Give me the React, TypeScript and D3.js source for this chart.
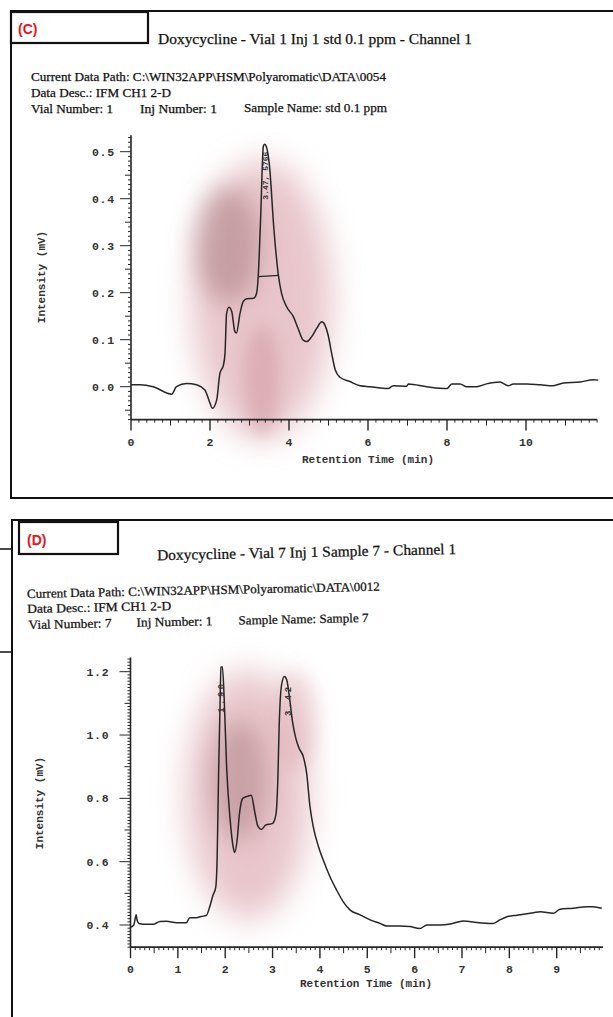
import React from "react";
import * as d3 from "d3";

// (C) standard 0.1 ppm trace
const topTime = [0, 0.22, 0.56, 1.03, 1.15, 1.41, 1.66, 1.87, 2.0, 2.06, 2.17, 2.25, 2.34, 2.38, 2.42, 2.48, 2.55, 2.63, 2.67, 2.76, 2.84, 2.93, 3.1, 3.18, 3.22, 3.28, 3.35, 3.38, 3.42, 3.5, 3.62, 3.73, 3.81, 3.94, 4.11, 4.23, 4.36, 4.45, 4.57, 4.7, 4.83, 4.91, 4.99, 5.08, 5.17, 5.29, 5.54, 5.8, 6.05, 6.51, 6.64, 6.98, 7.02, 7.49, 8.0, 8.12, 8.33, 8.5, 8.75, 9.0, 9.34, 9.55, 9.68, 10.02, 10.36, 10.69, 10.95, 11.37, 11.71, 11.83];
const topSignal = [0.004, 0.004, 0.0, -0.016, 0.0, 0.007, 0.004, -0.007, -0.035, -0.046, -0.028, 0.028, 0.046, 0.071, 0.156, 0.169, 0.16, 0.117, 0.114, 0.156, 0.181, 0.187, 0.188, 0.199, 0.234, 0.355, 0.511, 0.516, 0.512, 0.475, 0.333, 0.238, 0.199, 0.17, 0.149, 0.124, 0.099, 0.096, 0.106, 0.124, 0.138, 0.131, 0.11, 0.071, 0.036, 0.02, 0.011, 0.002, 0.0, -0.004, 0.002, 0.001, 0.006, 0.0, -0.004, 0.006, 0.006, 0.0, 0.0, 0.006, 0.01, 0.002, 0.006, 0.006, 0.004, 0.002, 0.008, 0.01, 0.015, 0.014];
const topXTicks = [0, 2, 4, 6, 8, 10];
const topYTicks = [0.0, 0.1, 0.2, 0.3, 0.4, 0.5];
const topPeaks = [{ t: 3.4, v: 0.398, label: "3.47, 5766" }];

// (D) sample 7 trace
const bottomTime = [0, 0.07, 0.12, 0.14, 0.18, 0.34, 0.48, 0.62, 0.76, 0.97, 1.18, 1.25, 1.39, 1.49, 1.6, 1.67, 1.74, 1.8, 1.83, 1.86, 1.89, 1.91, 1.94, 1.98, 2.03, 2.1, 2.17, 2.2, 2.25, 2.3, 2.37, 2.48, 2.55, 2.62, 2.69, 2.76, 2.86, 3.0, 3.07, 3.11, 3.14, 3.19, 3.25, 3.3, 3.35, 3.42, 3.49, 3.56, 3.65, 3.72, 3.79, 3.86, 3.97, 4.07, 4.21, 4.35, 4.49, 4.64, 4.85, 5.06, 5.27, 5.41, 5.69, 5.9, 6.11, 6.26, 6.54, 6.75, 7.03, 7.31, 7.66, 7.8, 7.95, 8.16, 8.51, 8.65, 8.93, 9.07, 9.35, 9.63, 9.77, 9.95];
const bottomSignal = [0.393, 0.4, 0.432, 0.415, 0.405, 0.402, 0.402, 0.411, 0.412, 0.407, 0.407, 0.423, 0.423, 0.427, 0.43, 0.456, 0.493, 0.519, 0.614, 0.877, 1.087, 1.214, 1.216, 1.109, 0.898, 0.74, 0.645, 0.629, 0.666, 0.75, 0.8, 0.807, 0.81, 0.76, 0.712, 0.702, 0.716, 0.721, 0.748, 0.853, 1.032, 1.158, 1.185, 1.174, 1.127, 1.043, 0.99, 0.958, 0.931, 0.879, 0.774, 0.71, 0.647, 0.605, 0.553, 0.511, 0.474, 0.447, 0.432, 0.416, 0.405, 0.397, 0.397, 0.395, 0.389, 0.4, 0.4, 0.403, 0.413, 0.408, 0.405, 0.416, 0.426, 0.431, 0.439, 0.442, 0.437, 0.45, 0.453, 0.458, 0.458, 0.453];
const bottomXTicks = [0, 1, 2, 3, 4, 5, 6, 7, 8, 9];
const bottomYTicks = [0.4, 0.6, 0.8, 1.0, 1.2];
const bottomPeaks = [
  { t: 1.92, v: 1.07, label: "1.90" },
  { t: 3.33, v: 1.06, label: "3.42" },
];

const ink = "#262626";
const mono = "'Liberation Mono', 'DejaVu Sans Mono', monospace";
const serif = "'Liberation Serif', 'DejaVu Serif', serif";

const near = (a: number, step: number) => Math.abs(a / step - Math.round(a / step)) < 1e-6;

function Plot(props: any) {
  const { time, signal, x, y, xEnd, yMin, yMax, xTicks, yTicks, xStep, xMid, yStep, yMid, yMajor, xLabelPos, yLabelPos, yLabelGap, peaks, peakFont, peakSpacing, bandFrom, bandTo } = props;
  const x0 = x(0);
  const axisY = y(yMin);
  const line = d3.line<number>()
    .x((d, i) => x(time[i]))
    .y(d => y(d))
    .curve(d3.curveMonotoneX);

  const xMinor = d3.range(0, xEnd + 1e-9, xStep).map(v => +v.toFixed(3));
  const yMinor = d3.range(Math.ceil(yMin / yStep) * yStep, yMax + 1e-9, yStep).map(v => +v.toFixed(3));
  const isLabelled = (v: number) => xTicks.some((t: number) => Math.abs(t - v) < 1e-6);

  return (
    <g>
      {/* axes */}
      <line x1={x0} x2={x0} y1={y(yMax)} y2={axisY} stroke={ink} strokeWidth={1.6} />
      <line x1={x0} x2={x(xEnd)} y1={axisY} y2={axisY} stroke={ink} strokeWidth={1.6} />
      {xMinor.map((v, i) => {
        const len = isLabelled(v) ? 11 : near(v, xMid) ? 6 : 3;
        return <line key={"xt" + i} x1={x(v)} x2={x(v)} y1={axisY} y2={axisY + len} stroke={ink} strokeWidth={isLabelled(v) ? 1.4 : 1} />;
      })}
      {yMinor.map((v, i) => {
        const len = near(v, yMajor) ? 11 : near(v, yMid) ? 6 : 3;
        return <line key={"yt" + i} x1={x0 - len} x2={x0} y1={y(v)} y2={y(v)} stroke={ink} strokeWidth={1} />;
      })}
      {xTicks.map((t: number) => (
        <text key={"xl" + t} x={x(t)} y={axisY + 26} textAnchor="middle" fontFamily={mono} fontWeight="bold" fontSize={11.5} fill="#333">{t}</text>
      ))}
      {yTicks.map((t: number) => (
        <text key={"yl" + t} x={x0 - yLabelGap} y={y(t) + 4} textAnchor="end" fontFamily={mono} fontWeight="bold" fontSize={11.5} letterSpacing={0.8} fill="#333">{t.toFixed(1)}</text>
      ))}
      <text x={xLabelPos[0]} y={xLabelPos[1]} textAnchor="middle" fontFamily={mono} fontWeight="bold" fontSize={11} fill="#333">Retention Time (min)</text>
      <text transform={`translate(${yLabelPos[0]},${yLabelPos[1]}) rotate(-90)`} textAnchor="middle" fontFamily={mono} fontWeight="bold" fontSize={11} fill="#333">Intensity (mV)</text>

      {/* trace */}
      <path d={line(signal) || ""} fill="none" stroke={ink} strokeWidth={1.5} strokeLinejoin="round" />
      {bandFrom && (
        <line x1={x(bandFrom[0])} y1={y(bandFrom[1])} x2={x(bandTo[0])} y2={y(bandTo[1])} stroke={ink} strokeWidth={1.2} />
      )}
      {peaks.map((p: any, i: number) => (
        <text key={"pk" + i} transform={`translate(${x(p.t) + 3},${y(p.v)}) rotate(-90)`} fontFamily={mono} fontWeight="bold" fontSize={peakFont} letterSpacing={peakSpacing} fill="#333">{p.label}</text>
      ))}
    </g>
  );
}

function Stain({ cx, cy, rx, ry, color, opacity, blur }: any) {
  const id = `st${cx}${cy}`;
  return (
    <g>
      <defs>
        <filter id={id} x="-60%" y="-60%" width="220%" height="220%">
          <feGaussianBlur stdDeviation={blur} />
        </filter>
      </defs>
      <ellipse cx={cx} cy={cy} rx={rx} ry={ry} fill={color} opacity={opacity} filter={`url(#${id})`} />
    </g>
  );
}

export default function App() {
  const W = 613, H = 1017;

  const topX = d3.scaleLinear().domain([0, 10]).range([131, 526]);
  const topY = d3.scaleLinear().domain([0, 0.5]).range([386.7, 151.7]);
  const botX = d3.scaleLinear().domain([0, 9]).range([130.5, 556.7]);
  const botY = d3.scaleLinear().domain([0.4, 1.2]).range([925, 671.7]);

  return (
    <svg width={W} height={H} style={{ position: "absolute", left: 0, top: 0, background: "#fff" }}>
      <rect width={W} height={H} fill="#fff" />

      {/* scan stains */}
      <Stain cx={262} cy={300} rx={70} ry={140} color="#d9a0a8" opacity={0.6} blur={16} />
      <Stain cx={228} cy={245} rx={32} ry={58} color="#a3767a" opacity={0.5} blur={12} />
      <Stain cx={262} cy={380} rx={18} ry={55} color="#c98c95" opacity={0.4} blur={8} />
      <Stain cx={248} cy={795} rx={62} ry={125} color="#d9a0a8" opacity={0.6} blur={16} />
      <Stain cx={240} cy={780} rx={28} ry={60} color="#a3767a" opacity={0.45} blur={12} />
      <Stain cx={295} cy={720} rx={22} ry={50} color="#d9a0a8" opacity={0.4} blur={10} />

      {/* panel C frame */}
      <rect x={11} y={11} width={640} height={487} fill="none" stroke="#111" strokeWidth={2} />
      <rect x={11} y={12} width={137} height={31} fill="none" stroke="#111" strokeWidth={2.2} />
      <text x={18} y={34} fontFamily="'Liberation Sans', Arial, sans-serif" fontWeight="bold" fontSize={14} fill="#e8141b">(C)</text>
      <g fill="#111" stroke="#111" strokeWidth={0.25}>
        <text x={158} y={44} fontFamily={serif} fontSize={15} textLength={314} lengthAdjust="spacingAndGlyphs">Doxycycline  - Vial 1 Inj 1 std 0.1 ppm - Channel 1</text>
        <g fontFamily={serif} fontSize={12.5}>
          <text x={31} y={81} textLength={355} lengthAdjust="spacingAndGlyphs">Current Data Path: C:\WIN32APP\HSM\Polyaromatic\DATA\0054</text>
          <text x={31} y={97} textLength={140} lengthAdjust="spacingAndGlyphs">Data Desc.: IFM CH1 2-D</text>
          <text x={31} y={113} textLength={82} lengthAdjust="spacingAndGlyphs">Vial Number: 1</text>
          <text x={140} y={113} textLength={77} lengthAdjust="spacingAndGlyphs">Inj Number: 1</text>
          <text x={244} y={112} textLength={143} lengthAdjust="spacingAndGlyphs">Sample Name: std 0.1 ppm</text>
        </g>
      </g>
      <Plot time={topTime} signal={topSignal} x={topX} y={topY} xEnd={11.8} yMin={-0.07} yMax={0.535}
        xTicks={topXTicks} yTicks={topYTicks} xStep={0.2} xMid={1} yStep={0.01} yMid={0.05} yMajor={0.1}
        xLabelPos={[368, 463]} yLabelPos={[45, 277]} yLabelGap={16} peaks={topPeaks} peakFont={8} peakSpacing={0}
        bandFrom={[3.22, 0.234]} bandTo={[3.74, 0.237]} />

      {/* panel D frame */}
      <line x1={12} y1={520} x2={12} y2={H} stroke="#111" strokeWidth={2} />
      <line x1={11} y1={520} x2={W} y2={520} stroke="#111" strokeWidth={2} />
      <line x1={0} y1={549} x2={12} y2={549} stroke="#111" strokeWidth={1.5} />
      <line x1={0} y1={652} x2={12} y2={652} stroke="#111" strokeWidth={1.5} />
      <rect x={19} y={522} width={99} height={32} fill="none" stroke="#111" strokeWidth={2.2} />
      <text x={27} y={545} fontFamily="'Liberation Sans', Arial, sans-serif" fontWeight="bold" fontSize={14} fill="#e8141b">(D)</text>
      <g transform="rotate(-1.2, 27, 600)" fontFamily={serif} fill="#111" stroke="#111" strokeWidth={0.25}>
        <text x={158} y={563} fontSize={15} textLength={299} lengthAdjust="spacingAndGlyphs">Doxycycline  - Vial 7 Inj 1 Sample 7 - Channel 1</text>
        <text x={27} y={598} fontSize={12.5} textLength={353} lengthAdjust="spacingAndGlyphs">Current Data Path: C:\WIN32APP\HSM\Polyaromatic\DATA\0012</text>
        <text x={27} y={613} fontSize={12.5} textLength={144} lengthAdjust="spacingAndGlyphs">Data Desc.: IFM CH1 2-D</text>
        <text x={28} y={629} fontSize={12.5} textLength={83} lengthAdjust="spacingAndGlyphs">Vial Number: 7</text>
        <text x={136} y={629} fontSize={12.5} textLength={76} lengthAdjust="spacingAndGlyphs">Inj Number: 1</text>
        <text x={238} y={629} fontSize={12.5} textLength={130} lengthAdjust="spacingAndGlyphs">Sample Name: Sample 7</text>
      </g>
      <Plot time={bottomTime} signal={bottomSignal} x={botX} y={botY} xEnd={9.98} yMin={0.33} yMax={1.245}
        xTicks={bottomXTicks} yTicks={bottomYTicks} xStep={0.1} xMid={0.5} yStep={0.01} yMid={0.1} yMajor={0.2}
        xLabelPos={[366, 987]} yLabelPos={[43, 803]} yLabelGap={21} peaks={bottomPeaks} peakFont={9} peakSpacing={2.5} />
    </svg>
  );
}
